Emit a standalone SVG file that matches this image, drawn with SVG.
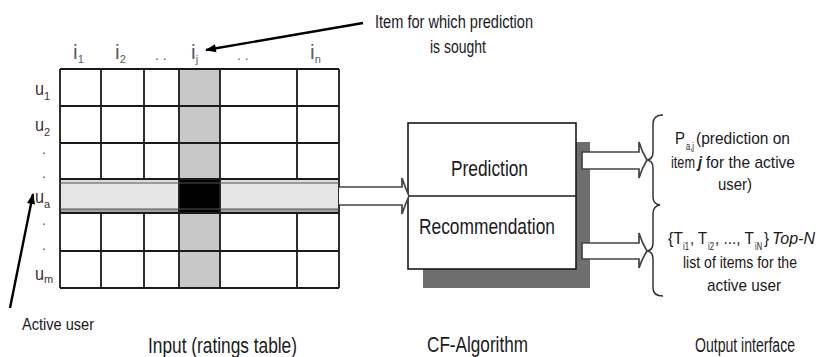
<svg xmlns="http://www.w3.org/2000/svg" width="822" height="357" viewBox="0 0 822 357">
<defs>
<style>
text{font-family:"Liberation Sans",Arial,sans-serif;fill:#1a1a1a}
.grid{stroke:#1a1a1a;stroke-width:1.8;fill:none}
.thin{stroke:#555;stroke-width:1.2;fill:none}
.lbl{fill:#5a5a66;font-size:21px}
.ulbl{fill:#3a3034;font-size:18px}
.sub{font-size:11px}
.dot{font-size:14px;fill:#555}
.blk{fill:#fff;stroke:#444;stroke-width:1.7}
.brace{fill:none;stroke:#333;stroke-width:1.5}
.ptr{stroke:#000;stroke-width:2.4;fill:none}
.r{font-size:17px}
.rs{font-size:10px}
.big{font-size:22px}
.box{font-size:22px}
</style>
<marker id="ah" viewBox="0 0 12 10" refX="11" refY="5" markerWidth="12" markerHeight="9" markerUnits="userSpaceOnUse" orient="auto"><path d="M0,0.5 L12,5 L0,9.5 z" fill="#000"/></marker>
</defs>
<rect width="822" height="357" fill="#fff"/>

<g id="ratings-table">
<rect x="60" y="69" width="279" height="219" fill="#fff"/>
<rect x="179" y="69" width="41" height="219" fill="#c8c8c8"/>
<rect x="60" y="179" width="279" height="4" fill="#dcdcdc"/>
<rect x="60" y="183" width="279" height="26" fill="#e6e6e6"/>
<rect x="60" y="209" width="279" height="4" fill="#a0a0a0"/>
<rect x="179" y="179" width="41" height="35" fill="#000"/>
<path class="grid" d="M60,69H339M60,106H339M60,143H339M60,179H339M60,213H339M60,251H339M60,288H339M60,69V288M179,69V288M220,69V288M339,69V288M101,69V179M144,69V179M297,69V179M101,213V288M144,213V288M297,213V288"/>
<path class="thin" d="M60,183H339M60,209H339"/>
<text class="lbl" x="73" y="59">i<tspan class="sub" dy="4">1</tspan></text>
<text class="lbl" x="115" y="59">i<tspan class="sub" dy="4">2</tspan></text>
<text class="dot" x="155" y="60">. .</text>
<text class="lbl" x="191" y="59">i<tspan class="sub" dy="4">j</tspan></text>
<text class="dot" x="237" y="60" style="fill:#b04848">. .</text>
<text class="lbl" x="310" y="59">i<tspan class="sub" dy="4">n</tspan></text>
<text class="ulbl" x="35" y="95" textLength="9" lengthAdjust="spacingAndGlyphs">u</text><text class="ulbl sub" x="44" y="100">1</text>
<text class="ulbl" x="35" y="131" textLength="9" lengthAdjust="spacingAndGlyphs">u</text><text class="ulbl sub" x="44" y="136">2</text>
<text class="dot" x="42" y="154">.</text>
<text class="dot" x="42" y="178">.</text>
<text class="ulbl" x="35" y="203" textLength="9" lengthAdjust="spacingAndGlyphs">u</text><text class="ulbl sub" x="44" y="208">a</text>
<text class="dot" x="42" y="225">.</text>
<text class="dot" x="42" y="250">.</text>
<text class="ulbl" x="35" y="280" textLength="9" lengthAdjust="spacingAndGlyphs">u</text><text class="ulbl sub" x="44" y="283">m</text>
<text class="big" x="148" y="353" textLength="149" lengthAdjust="spacingAndGlyphs">Input (ratings table)</text>
</g>

<g id="cf-algorithm">
<rect x="423" y="142" width="167" height="146" fill="#6e6e6e"/>
<rect x="408" y="123" width="168" height="146" fill="#fff" stroke="#1a1a1a" stroke-width="1.6"/>
<line x1="408" y1="196" x2="576" y2="196" stroke="#1a1a1a" stroke-width="1.6"/>
<text class="box" x="451" y="176" textLength="77" lengthAdjust="spacingAndGlyphs">Prediction</text>
<text class="box" x="419" y="234" textLength="136" lengthAdjust="spacingAndGlyphs">Recommendation</text>
<text class="big" x="427" y="352" textLength="101" lengthAdjust="spacingAndGlyphs">CF-Algorithm</text>
</g>

<g id="output-prediction">
<path class="brace" d="M663,115Q653,115 653,124V152Q653,160 646,160Q653,160 653,168V197Q653,204 660,205"/>
<text class="r" x="675" y="144" textLength="10" lengthAdjust="spacingAndGlyphs">P</text>
<text class="rs" x="686" y="150" textLength="8" lengthAdjust="spacingAndGlyphs">a,j</text>
<text class="r" x="696" y="144" textLength="94" lengthAdjust="spacingAndGlyphs">(prediction on</text>
<text class="r" x="671" y="168" textLength="24" lengthAdjust="spacingAndGlyphs">item</text>
<text class="r" x="698" y="168" font-weight="bold" font-style="italic" textLength="4" lengthAdjust="spacingAndGlyphs">j</text>
<text class="r" x="706" y="168" textLength="89" lengthAdjust="spacingAndGlyphs">for the active</text>
<text class="r" x="718" y="190" textLength="34" lengthAdjust="spacingAndGlyphs">user)</text>
</g>

<g id="output-recommendation">
<path class="brace" d="M660,205Q653,206 653,214V243Q653,251 646,251Q653,251 653,259V288Q653,296 663,296"/>
<text class="r" x="668" y="244" textLength="15" lengthAdjust="spacingAndGlyphs">{T</text>
<text class="rs" x="683" y="250" textLength="6" lengthAdjust="spacingAndGlyphs">i1</text>
<text class="r" x="690" y="244" textLength="17" lengthAdjust="spacingAndGlyphs">, T</text>
<text class="rs" x="708" y="250" textLength="6" lengthAdjust="spacingAndGlyphs">i2</text>
<text class="r" x="715" y="244" textLength="39" lengthAdjust="spacingAndGlyphs">, ..., T</text>
<text class="rs" x="755" y="250" textLength="7" lengthAdjust="spacingAndGlyphs">iN</text>
<text class="r" x="764" y="244" textLength="5" lengthAdjust="spacingAndGlyphs">}</text>
<text class="r" x="772" y="244" font-style="italic" textLength="43" lengthAdjust="spacingAndGlyphs">Top-N</text>
<text class="r" x="683" y="268" textLength="114" lengthAdjust="spacingAndGlyphs">list of items for the</text>
<text class="r" x="707" y="291" textLength="74" lengthAdjust="spacingAndGlyphs">active user</text>
<text x="695" y="352" font-size="20" textLength="100" lengthAdjust="spacingAndGlyphs">Output interface</text>
</g>

<g id="annotations">
<text x="375" y="28" font-size="19" textLength="158" lengthAdjust="spacingAndGlyphs">Item for which prediction</text>
<text x="430" y="53" font-size="19" textLength="56" lengthAdjust="spacingAndGlyphs">is sought</text>
<text x="22" y="330" font-size="17" textLength="72" lengthAdjust="spacingAndGlyphs">Active user</text>
</g>

<g id="connectors">
<path class="blk" d="M339,187H402V178Q405,187 409,196Q405,205 402,214V205H339"/>
<path class="blk" d="M582,152H639V142Q642,152 647,160Q642,168 639,178V169H582Z"/>
<path class="blk" d="M582,243H639V233Q642,243 647,251Q642,259 639,268V259H582Z"/>
<line class="ptr" x1="363" y1="23" x2="206" y2="50" marker-end="url(#ah)"/>
<line class="ptr" x1="10" y1="308" x2="33" y2="194" stroke-width="2" marker-end="url(#ah)"/>
</g>
</svg>
